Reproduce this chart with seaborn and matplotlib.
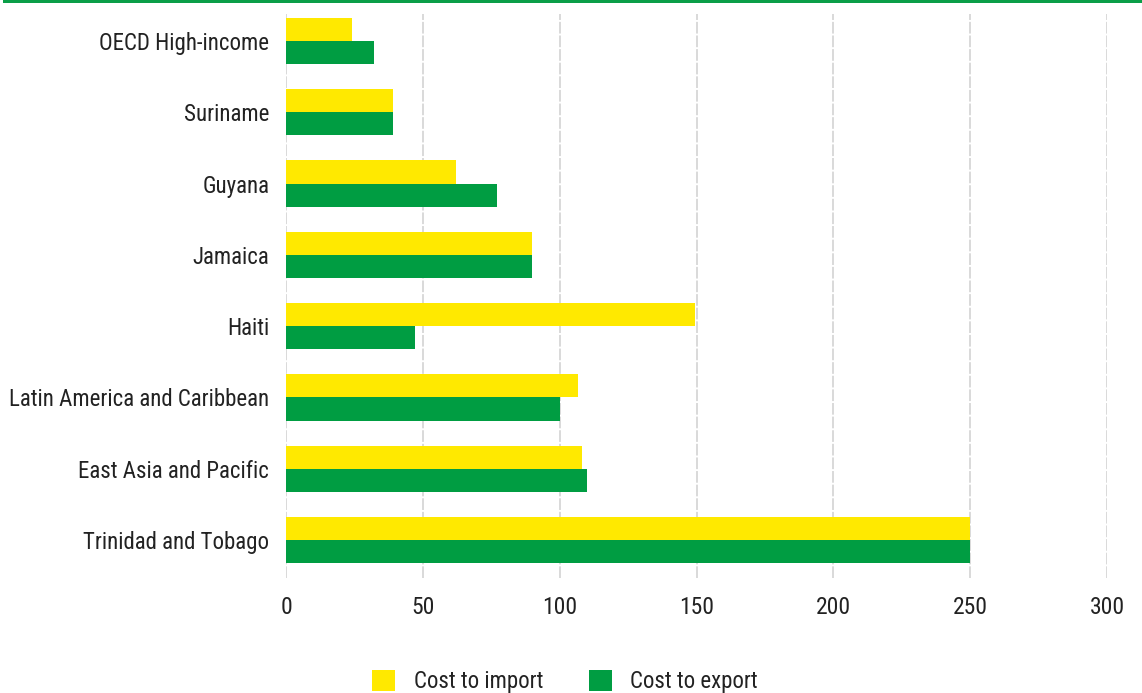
import matplotlib
matplotlib.use("Agg")
import matplotlib.pyplot as plt
from matplotlib import font_manager
from matplotlib.patches import Patch, Rectangle
import seaborn as sns
import pandas as pd

categories = [
    "OECD High-income",
    "Suriname",
    "Guyana",
    "Jamaica",
    "Haiti",
    "Latin America and Caribbean",
    "East Asia and Pacific",
    "Trinidad and Tobago",
]
cost_to_import = [24, 39, 62, 90, 149.5, 106.7, 108, 250]
cost_to_export = [32, 39, 77, 90, 47, 100, 110, 250]
series_names = ["Cost to import", "Cost to export"]
x_ticks = [0, 50, 100, 150, 200, 250, 300]

YELLOW = "#FFE900"
GREEN = "#009D42"

sns.set_theme(style="white")
available = {f.name for f in font_manager.fontManager.ttflist}
family = next(
    (f for f in ["Liberation Sans Narrow", "DejaVu Sans Condensed", "Roboto Condensed",
                 "Liberation Sans", "DejaVu Sans"] if f in available),
    "DejaVu Sans",
)
plt.rcParams["font.family"] = [family, "DejaVu Sans"]

df = pd.DataFrame({
    "category": categories * 2,
    "value": cost_to_import + cost_to_export,
    "series": [series_names[0]] * len(categories) + [series_names[1]] * len(categories),
})

fig = plt.figure(figsize=(11.42, 6.93), dpi=100)
ax = fig.add_axes([286 / 1142, 1 - 578 / 693, (1107 - 286) / 1142, (578 - 14) / 693])

sns.barplot(
    data=df, y="category", x="value", hue="series", order=categories,
    hue_order=series_names, palette=[YELLOW, GREEN], width=0.65,
    saturation=1, orient="h", ax=ax, legend=False, linewidth=0,
)

ax.set_xlim(0, 300)
ax.set_ylim(7.533, -0.379)
ax.set_xticks(x_ticks)
ax.set_xticklabels([str(t) for t in x_ticks], fontsize=17, color="#222222")
ax.tick_params(axis="x", length=0, pad=13)
ax.tick_params(axis="y", length=0, pad=12, labelsize=16.5, labelcolor="#222222")
ax.set_xlabel("")
ax.set_ylabel("")
ax.xaxis.grid(True, color="#d9d9d9", linewidth=1.4, linestyle=(0, (6, 1)))
ax.set_axisbelow(True)
for s in ax.spines.values():
    s.set_visible(False)

# green band across the top of the figure
fig.patches.append(Rectangle((3 / 1142, 1 - 3 / 693), 1, 3 / 693, transform=fig.transFigure,
                             facecolor="#0A9E48", edgecolor="none"))

handles = [Patch(facecolor=YELLOW, edgecolor="none"), Patch(facecolor=GREEN, edgecolor="none")]
fig.legend(
    handles, series_names, loc="lower center", bbox_to_anchor=(565 / 1142, -0.03),
    ncol=2, frameon=False, fontsize=16.5, handlelength=1.0, handleheight=1.0,
    handletextpad=0.8, columnspacing=2.0, labelcolor="#222222",
)

fig.savefig("out.png", dpi=100)
